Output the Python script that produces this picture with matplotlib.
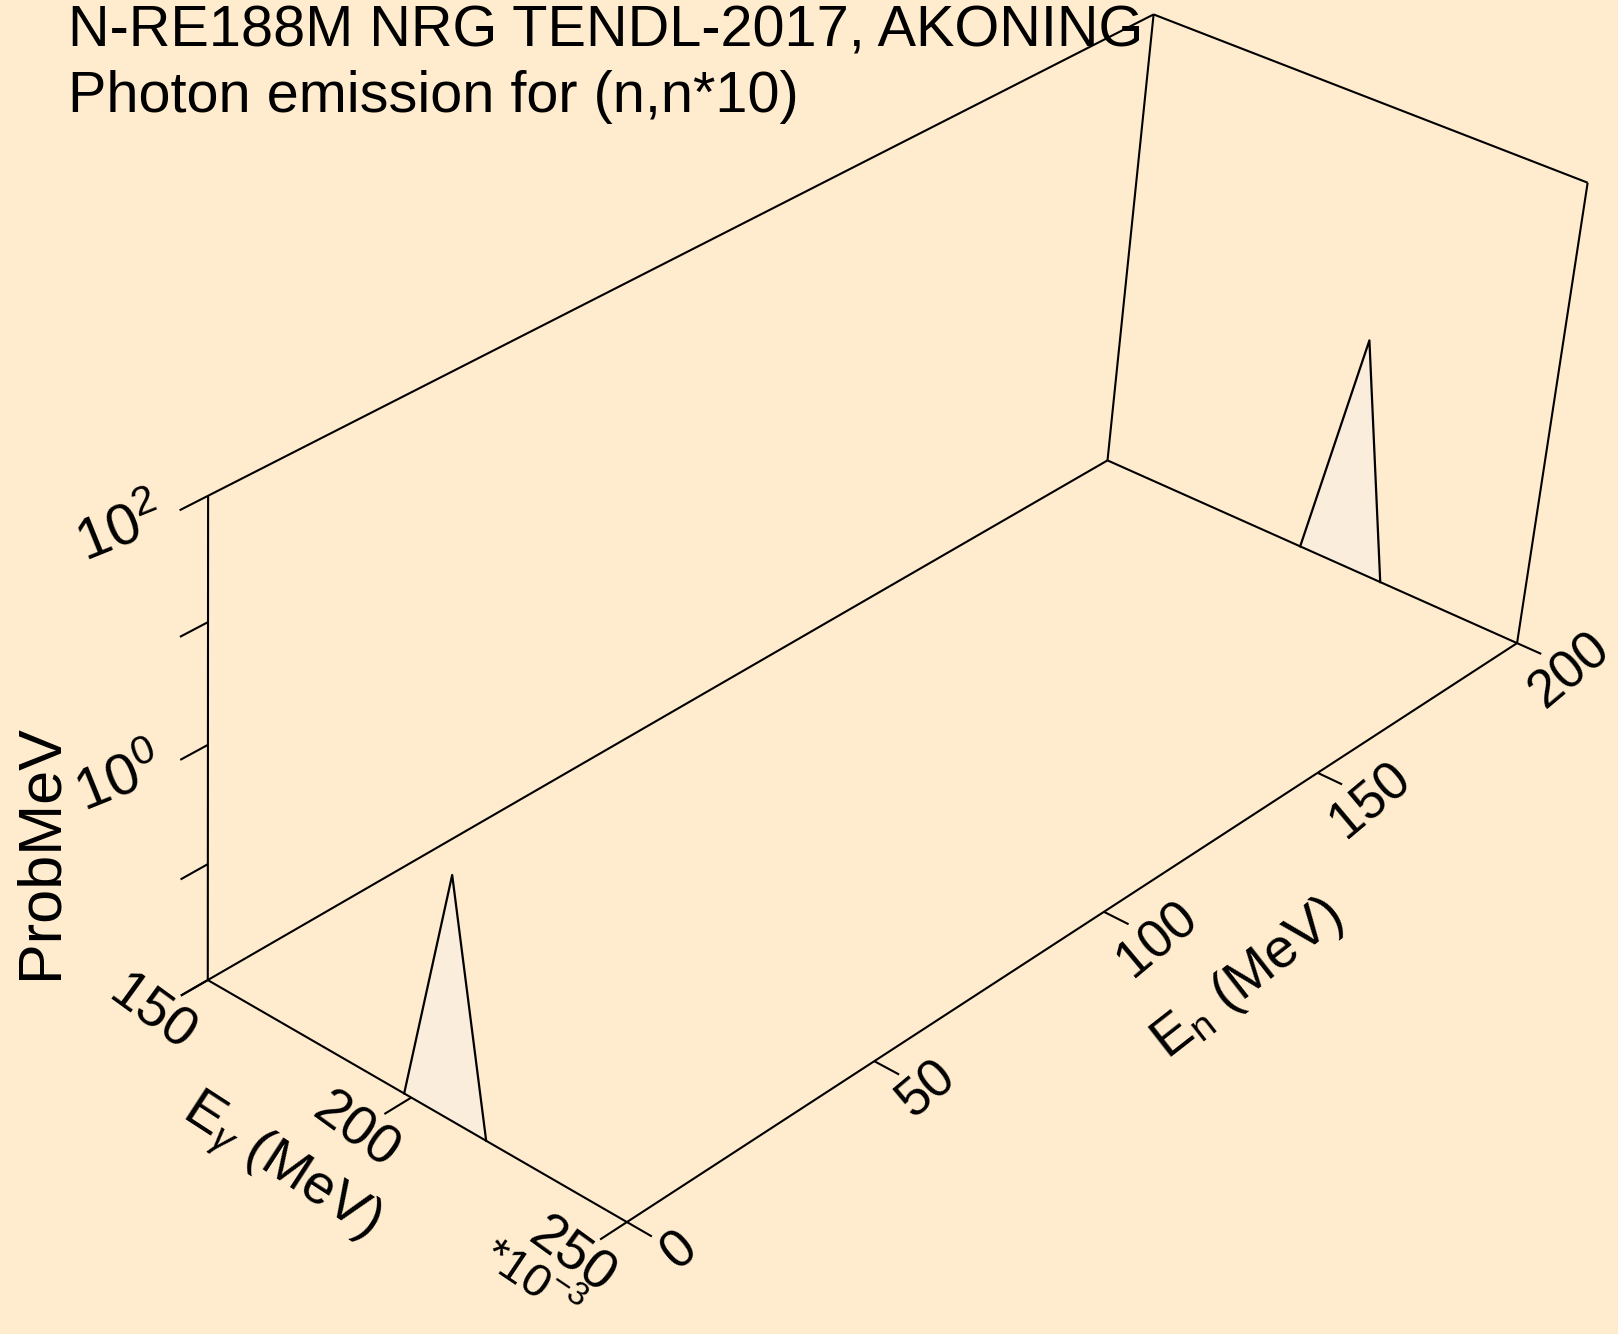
import numpy as np
import matplotlib
matplotlib.use("Agg")
import matplotlib.pyplot as plt

plt.rcParams['font.family'] = ['Liberation Sans', 'DejaVu Sans']
plt.rcParams['mathtext.fontset'] = 'custom'
plt.rcParams['mathtext.rm'] = 'Liberation Sans'
plt.rcParams['mathtext.it'] = 'Liberation Sans:italic'
plt.rcParams['mathtext.sf'] = 'Liberation Sans'

# ---- data ----
incident_energies = [1e-11, 200.0]          # En, MeV
spec_en0_eg = [0.1983, 0.2080, 0.2177]      # Egamma, MeV
spec_en0_prob = [0.0, 1.05, 0.0]            # Prob/MeV
spec_en200_eg = [0.1983, 0.2080, 0.2177]
spec_en200_prob = [0.0, 1.05, 0.0]

eg_ticks = [150, 200, 250]                  # *10^-3 MeV
en_ticks = [0, 50, 100, 150, 200]
z_ticks = [-2, -1, 0, 1, 2]                 # log10 Prob/MeV
z_labels = {2: r'$\mathit{10}^{\mathit{2}}$', 0: r'$\mathit{10}^{\mathit{0}}$'}

eg_lim = (0.150, 0.250)
en_lim = (0.0, 200.0)
z_lim = (-2.0, 2.0)

# ---- view: perspective camera calibrated on the box corners ----
view_world = np.array([
    [0, 0, 0], [1, 0, 0], [1, 1, 0], [0, 1, 0],
    [0, 0, 1], [0, 1, 1], [1, 1, 1],
    [0, 0, 0.25], [0, 0, 0.5], [0, 0, 0.75],
    [1, 0.25, 0], [1, 0.5, 0], [1, 0.75, 0], [0.5, 0, 0],
], dtype=float)
view_pix = np.array([
    [208, 979], [627.5, 1222], [1516.9, 642.7], [1107.5, 460.8],
    [208.3, 495], [1153.8, 14], [1587.2, 182.7],
    [208, 865], [208, 745], [208, 623.3],
    [874.5, 1061.7], [1104.6, 911.7], [1317.7, 773.3], [409.6, 1096.7],
], dtype=float)


def fit_camera(world, pix):
    c = pix.mean(axis=0)
    s = np.abs(pix - c).max()
    pn = (pix - c) / s
    rows = []
    for w, (u, v) in zip(world, pn):
        p = np.append(w, 1.0)
        rows.append(np.concatenate([p, np.zeros(4), -u * p]))
        rows.append(np.concatenate([np.zeros(4), p, -v * p]))
    _, _, vt = np.linalg.svd(np.array(rows))
    P = vt[-1].reshape(3, 4)
    T_inv = np.array([[s, 0, c[0]], [0, s, c[1]], [0, 0, 1]])
    return T_inv @ P


CAM = fit_camera(view_world, view_pix)


def proj(X, Y, Z):
    X, Y, Z = np.broadcast_arrays(np.asarray(X, float), np.asarray(Y, float), np.asarray(Z, float))
    h = CAM @ np.vstack([X.ravel(), Y.ravel(), Z.ravel(), np.ones(X.size)])
    return h[0] / h[2], h[1] / h[2]


def nx(eg):
    return (np.asarray(eg) - eg_lim[0]) / (eg_lim[1] - eg_lim[0])


def ny(en):
    return (np.asarray(en) - en_lim[0]) / (en_lim[1] - en_lim[0])


def nz(p):
    lp = np.log10(np.clip(np.asarray(p, float), 10 ** z_lim[0], None))
    return (lp - z_lim[0]) / (z_lim[1] - z_lim[0])


def seg(ax, a, b, **kw):
    xs, ys = proj([a[0], b[0]], [a[1], b[1]], [a[2], b[2]])
    ax.plot(xs, ys, color='black', lw=1.5, solid_capstyle='butt', **kw)


bg = '#FFEBCD'
fig = plt.figure(figsize=(16.18, 13.34), dpi=100, facecolor=bg)
ax = fig.add_axes([0, 0, 1, 1])
ax.set_xlim(0, 1618)
ax.set_ylim(1334, 0)
ax.axis('off')
ax.set_facecolor(bg)

# box: floor, back walls
for a, b in [((0, 0, 0), (1, 0, 0)), ((1, 0, 0), (1, 1, 0)), ((1, 1, 0), (0, 1, 0)),
             ((0, 1, 0), (0, 0, 0)), ((0, 0, 0), (0, 0, 1)), ((0, 1, 0), (0, 1, 1)),
             ((1, 1, 0), (1, 1, 1)), ((0, 0, 1), (0, 1, 1)), ((0, 1, 1), (1, 1, 1))]:
    seg(ax, a, b, zorder=5)

# ticks
for t in eg_ticks:
    x = nx(t / 1000.0)
    seg(ax, (x, 0, 0), (x, -0.026, 0), zorder=5)
for t in en_ticks:
    y = ny(t)
    seg(ax, (1, y, 0), (1.056, y, 0), zorder=5)
for t in z_ticks:
    z = (t - z_lim[0]) / (z_lim[1] - z_lim[0])
    seg(ax, (0, 0, z), (0, -0.026, z), zorder=5)

# spectra, back to front
spectra = [(incident_energies[1], spec_en200_eg, spec_en200_prob),
           (incident_energies[0], spec_en0_eg, spec_en0_prob)]
for en, eg, pr in spectra:
    X = nx(eg)
    Y = np.full(len(eg), ny(en))
    Z = nz(pr)
    cx, cy = proj(X, Y, Z)
    fx0, fy0 = proj(X[0], Y[0], 0)
    fx1, fy1 = proj(X[-1], Y[-1], 0)
    px = np.concatenate([fx0, cx, fx1])
    py = np.concatenate([fy0, cy, fy1])
    ax.fill(px, py, color='#FAEDDC', lw=0, zorder=3)
    ax.plot(cx, cy, color='black', lw=1.6, zorder=4)

fs_tick = 40
# Egamma tick labels
for t in eg_ticks:
    px, py = proj(nx(t / 1000.0), 0, 0)
    ax.annotate(str(t), (px[0], py[0]), xytext=(-56, -34), textcoords='offset pixels',
                ha='center', va='center', rotation=-36, fontsize=fs_tick)
px, py = proj(nx(0.250), 0, 0)
ax.annotate(r'*10$^{-3}$', (px[0], py[0]), xytext=(-96, -60), textcoords='offset pixels',
            ha='center', va='center', rotation=-34, fontsize=34)
px, py = proj(nx(0.190), 0, 0)
ax.annotate(r'$\mathrm{E}_{\gamma}$ (MeV)', (px[0], py[0]), xytext=(-90, -94),
            textcoords='offset pixels', ha='center', va='center', rotation=-33, fontsize=fs_tick)

# En tick labels
for t in en_ticks:
    px, py = proj(1, ny(t), 0)
    ax.annotate(str(t), (px[0], py[0]), xytext=(53, -28), textcoords='offset pixels',
                ha='center', va='center', rotation=40, fontsize=38)
px, py = proj(1, ny(120), 0)
ax.annotate(r'$\mathrm{E}_{\mathrm{n}}$ (MeV)', (px[0], py[0]), xytext=(56, -124),
            textcoords='offset pixels', ha='center', va='center', rotation=38, fontsize=fs_tick)

# z labels
for t, lab in z_labels.items():
    z = (t - z_lim[0]) / (z_lim[1] - z_lim[0])
    px, py = proj(0, 0, z)
    ax.annotate(lab, (px[0], py[0]), xytext=(-88, -36), textcoords='offset pixels',
                ha='center', va='center', rotation=22, fontsize=42)
ax.text(41, 852, 'ProbMeV', rotation=90, ha='center', va='center', fontsize=44)

# title
ax.text(68, 46, 'N-RE188M NRG TENDL-2017, AKONING', fontsize=41.5, ha='left', va='baseline')
ax.text(68, 112, 'Photon emission for (n,n*10)', fontsize=41.5, ha='left', va='baseline')

fig.savefig('out.png', dpi=100, facecolor=bg)
